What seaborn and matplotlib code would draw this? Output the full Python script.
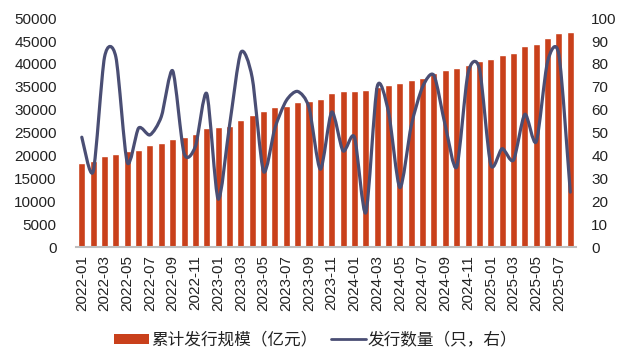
import pandas as pd
import seaborn as sns
import matplotlib.pyplot as plt
from matplotlib.path import Path
from matplotlib.patches import PathPatch, Patch
from matplotlib.lines import Line2D

# 月份
months = list(pd.date_range("2022-01", "2025-08", freq="MS").strftime("%Y-%m"))

# 累计发行规模（亿元）
totals = [18300, 18700, 19800, 20400, 20900, 21300, 22200, 22800, 23700, 24100,
          24800, 26100, 26200, 26500, 27800, 28900, 29800, 30600, 30900, 31600,
          32000, 32400, 33700, 34000, 34200, 34300, 35000, 35500, 35900, 36400,
          36900, 38100, 38600, 39100, 39800, 40700, 41000, 42000, 42500, 43900,
          44300, 45600, 46800, 46900]

# 发行数量（只，右）
counts = [48, 33, 83, 83, 37, 52, 49, 57, 77, 41,
          44, 67, 21, 53, 85, 74, 33, 52, 64, 68,
          61, 34, 59, 42, 48, 15, 70, 59, 26, 53,
          70, 75, 53, 35, 76, 78, 36, 43, 38, 58,
          46, 81, 84, 24]

bar_label = "累计发行规模（亿元）"
line_label = "发行数量（只，右）"

df = pd.DataFrame({"month": months, "total": totals, "count": counts})

sns.set_theme(style="white")
plt.rcParams["font.family"] = ["Liberation Sans", "Noto Sans CJK SC", "DejaVu Sans"]

bar_color = "#C9401B"
line_color = "#4A4E74"
text_color = "#222222"

fig = plt.figure(figsize=(6.24, 3.57), dpi=100)
ax = fig.add_axes([0.122, 0.308, 0.801, 0.641])

sns.barplot(data=df, x="month", y="total", color=bar_color, width=0.62,
            saturation=1, ax=ax)
ax.set_ylim(0, 50000)
ax.set_yticks(range(0, 50001, 5000))
ax.set_xlabel("")
ax.set_ylabel("")
ax.set_xticks(range(0, len(months), 2))
ax.set_xticklabels(months[::2], rotation=90)
ax.tick_params(axis="y", length=0, pad=14, labelsize=11, labelcolor=text_color)
ax.tick_params(axis="x", length=0, pad=6, labelsize=11, labelcolor=text_color)

# 右轴：平滑曲线（贝塞尔）
ax2 = ax.twinx()
ax2.set_ylim(0, 100)
ax2.set_yticks(range(0, 101, 10))
ax2.tick_params(axis="y", length=0, pad=11, labelsize=11, labelcolor=text_color)

k = 0.13  # 平滑程度
xs = list(range(len(counts)))
verts = [(xs[0], counts[0])]
codes = [Path.MOVETO]
n = len(counts)
for i in range(n - 1):
    p0 = (xs[max(i - 1, 0)], counts[max(i - 1, 0)])
    p1 = (xs[i], counts[i])
    p2 = (xs[i + 1], counts[i + 1])
    p3 = (xs[min(i + 2, n - 1)], counts[min(i + 2, n - 1)])
    c1 = (p1[0] + (p2[0] - p0[0]) * k, p1[1] + (p2[1] - p0[1]) * k)
    c2 = (p2[0] - (p3[0] - p1[0]) * k, p2[1] - (p3[1] - p1[1]) * k)
    verts += [c1, c2, p2]
    codes += [Path.CURVE4] * 3
ax2.add_patch(PathPatch(Path(verts, codes), fill=False, edgecolor=line_color,
                        lw=2.3, capstyle="round", joinstyle="round"))

for a in (ax, ax2):
    for s in a.spines.values():
        s.set_visible(False)
ax.spines["bottom"].set_visible(True)
ax.spines["bottom"].set_color("#BFBFBF")
ax.spines["bottom"].set_linewidth(1.5)

handles = [Patch(facecolor=bar_color, edgecolor="none"),
           Line2D([], [], color=line_color, lw=2)]
fig.legend(handles, [bar_label, line_label], loc="center",
           bbox_to_anchor=(0.506, 0.047), ncol=2, frameon=False,
           handlelength=2.1, handleheight=0.6, handletextpad=0.1,
           columnspacing=0.8, labelcolor=text_color,
           prop={"family": ["Noto Sans CJK SC"], "size": 12})

fig.savefig("out.png", dpi=100)
